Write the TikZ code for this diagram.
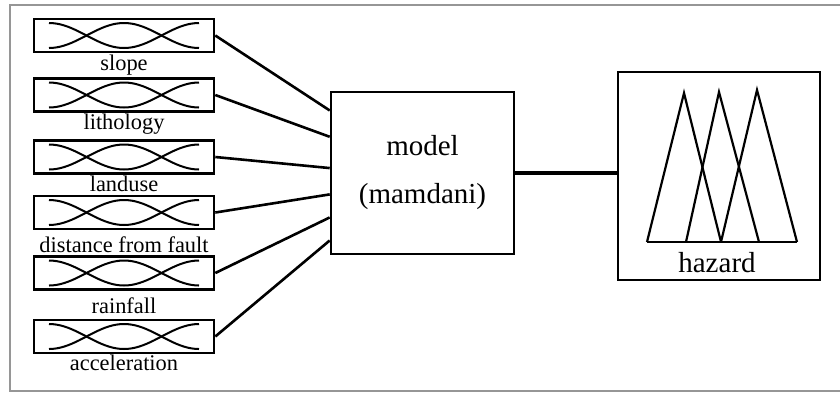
\documentclass[tikz,border=0pt]{standalone}
\usepackage{fontspec}
\setmainfont{Liberation Serif}
\usetikzlibrary{calc}
\definecolor{frameGray}{RGB}{150,150,150}

\begin{document}
\begin{tikzpicture}[x=0.5pt,y=-0.5pt,
  inbox/.style={rectangle,draw,line width=1.3pt,minimum width=90pt,minimum height=16.5pt,inner sep=0pt},
  inlabel/.style={anchor=base,inner sep=0pt,font=\fontsize{11.2}{13}\selectfont},
  mf/.style={line width=1pt},
  link/.style={line width=1.3pt}]
\useasboundingbox (0,0) rectangle (840,392);
\draw[frameGray,line width=1pt] (10,5) rectangle (850,391);

% Inputs
\node[inbox] (slope) at (124,35.5) {};
\node[inlabel] (slopetxt) at (124,70) {slope};
\node[inbox] (litho) at (124,95) {};
\node[inlabel] (lithotxt) at (124,129) {lithology};
\node[inbox] (landuse) at (124,157) {};
\node[inlabel] (landusetxt) at (124,191) {landuse};
\node[inbox] (fault) at (124,212.5) {};
\node[inlabel] (faulttxt) at (124,252) {distance from fault};
\node[inbox] (rain) at (124,273) {};
\node[inlabel] (raintxt) at (124,313) {rainfall};
\node[inbox] (accel) at (124,336.5) {};
\node[inlabel] (acceltxt) at (124,370) {acceleration};

\foreach \n in {slope,litho,landuse,fault,rain,accel}{
  \begin{scope}[shift={(\n.center)}]
    \draw[mf] plot[domain=-75:75,samples=41,smooth] (\x,{12.5*cos(2.4*\x)});
    \draw[mf] plot[domain=-75:75,samples=41,smooth] (\x,{-12.5*cos(2.4*\x)});
  \end{scope}
}

% Model
\node[rectangle,draw,line width=1.3pt,minimum width=91.5pt,minimum height=81pt,
  align=center,font=\fontsize{14.5}{24}\selectfont] (model) at (422.5,173) {model\\(mamdani)};
\draw[link] (slope.east) -- ($(model.north west)!0.12!(model.south west)$);
\draw[link] (litho.east) -- ($(model.north west)!0.28!(model.south west)$);
\draw[link] (landuse.east) -- ($(model.north west)!0.47!(model.south west)$);
\draw[link] (fault.east) -- ($(model.north west)!0.63!(model.south west)$);
\draw[link] (rain.east) -- ($(model.north west)!0.77!(model.south west)$);
\draw[link] (accel.east) -- ($(model.north west)!0.91!(model.south west)$);

% Output
\node[rectangle,draw,line width=1.3pt,minimum width=101pt,minimum height=104pt] (hazard) at (719,176) {};
\node[anchor=base,inner sep=0pt,font=\fontsize{14.5}{17}\selectfont] (hazardtxt) at (717,272) {hazard};
\draw[line width=2pt] (model.east) -- (model.east -| hazard.west);
\draw[line width=1.1pt] (647,242) -- (797,242);
\draw[line width=1.1pt,line join=miter] (647,242) -- (684,93) -- (721,242);
\draw[line width=1.1pt,line join=miter] (686,242) -- (719,92) -- (759,242);
\draw[line width=1.1pt,line join=miter] (721,242) -- (757,90) -- (797,242);
\end{tikzpicture}
\end{document}
